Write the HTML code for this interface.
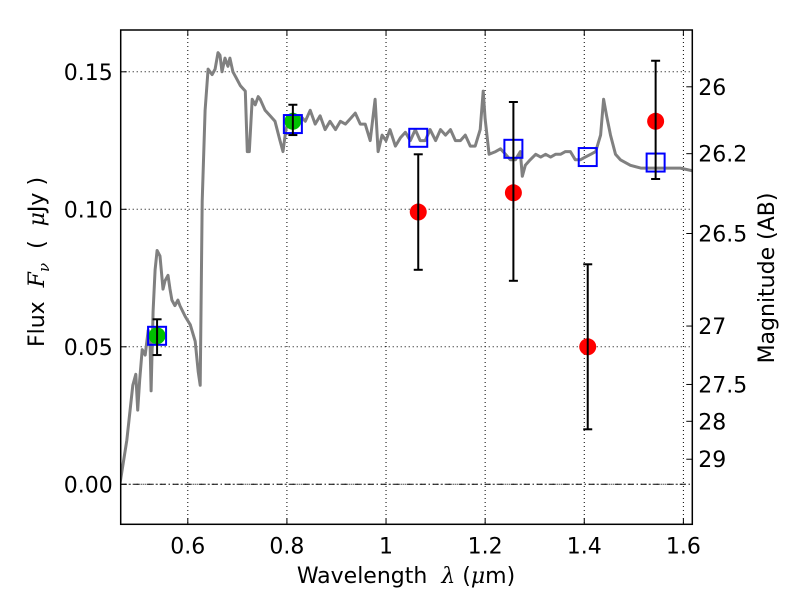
<!DOCTYPE html>
<html><head><meta charset="utf-8"><style>
html,body{margin:0;padding:0;background:#fff;}
svg text{font-family:"DejaVu Sans","Liberation Sans",sans-serif;fill:#000;}
</style></head><body>
<svg id="chart" width="800" height="600" viewBox="0 0 800 600" xmlns="http://www.w3.org/2000/svg">
<rect width="800" height="600" fill="#fff"/>
</svg>
<script>
const specWl=[0.463,0.477,0.489,0.495,0.499,0.503,0.508,0.514,0.520,0.524,0.526,0.530,0.534,0.538,0.544,0.550,0.554,0.560,0.564,0.568,0.574,0.580,0.584,0.595,0.605,0.615,0.621,0.625,0.629,0.635,0.641,0.649,0.655,0.661,0.665,0.669,0.675,0.681,0.685,0.691,0.697,0.706,0.716,0.720,0.724,0.730,0.736,0.742,0.746,0.756,0.766,0.776,0.786,0.792,0.798,0.806,0.817,0.827,0.837,0.847,0.857,0.867,0.877,0.887,0.898,0.908,0.918,0.928,0.938,0.948,0.958,0.968,0.978,0.984,0.992,1.000,1.008,1.019,1.029,1.039,1.049,1.059,1.069,1.079,1.089,1.100,1.110,1.120,1.130,1.140,1.150,1.160,1.170,1.180,1.190,1.196,1.200,1.208,1.221,1.231,1.241,1.251,1.261,1.271,1.275,1.281,1.291,1.302,1.312,1.322,1.332,1.342,1.352,1.362,1.372,1.382,1.392,1.402,1.413,1.423,1.433,1.439,1.445,1.453,1.463,1.473,1.493,1.514,1.554,1.594,1.618];
const specFlux=[0.000,0.016,0.036,0.040,0.027,0.038,0.049,0.047,0.056,0.051,0.034,0.063,0.078,0.085,0.083,0.071,0.074,0.076,0.071,0.067,0.065,0.067,0.065,0.061,0.058,0.052,0.041,0.036,0.103,0.136,0.151,0.149,0.151,0.157,0.156,0.150,0.155,0.152,0.155,0.150,0.148,0.145,0.143,0.121,0.121,0.140,0.138,0.141,0.140,0.136,0.134,0.132,0.125,0.121,0.129,0.134,0.132,0.134,0.132,0.136,0.131,0.134,0.129,0.132,0.129,0.132,0.131,0.133,0.135,0.131,0.131,0.125,0.140,0.121,0.127,0.125,0.129,0.123,0.126,0.128,0.125,0.129,0.125,0.125,0.129,0.125,0.129,0.127,0.129,0.125,0.125,0.127,0.123,0.123,0.129,0.143,0.133,0.120,0.121,0.122,0.120,0.118,0.118,0.121,0.112,0.116,0.118,0.120,0.119,0.120,0.119,0.120,0.120,0.121,0.121,0.118,0.118,0.119,0.120,0.121,0.127,0.140,0.134,0.127,0.120,0.118,0.116,0.115,0.115,0.115,0.114];
const obsWl=[1.065,1.257,1.407,1.544];
const obsFlux=[0.099,0.106,0.050,0.132];
const obsLo=[0.078,0.074,0.020,0.111];
const obsHi=[0.120,0.139,0.080,0.154];
const grnWl=[0.538,0.812];
const grnFlux=[0.054,0.132];
const grnLo=[0.047,0.127];
const grnHi=[0.060,0.138];
const modWl=[0.538,0.812,1.065,1.257,1.407,1.544];
const modFlux=[0.054,0.131,0.126,0.122,0.119,0.117];
const xTicks=[0.6,0.8,1.0,1.2,1.4,1.6];
const xTickLabels=["0.6","0.8","1","1.2","1.4","1.6"];
const yTicks=[0.00,0.05,0.10,0.15];
const yTickLabels=["0.00","0.05","0.10","0.15"];
const magTicks=[26,26.2,26.5,27,27.5,28,29];
const magTickLabels=["26","26.2","26.5","27","27.5","28","29"];

const L=120.7,R=692.3,T=30,B=524.3;
const X0=0.4646,X1=1.618;
const sx=v=>L+(v-X0)/(X1-X0)*(R-L);
const sy=v=>484.3-v*2750;
const magToFlux=m=>Math.pow(10,(23.9-m)/2.5);
const NS="http://www.w3.org/2000/svg";
const svg=document.getElementById('chart');
function mk(tag,attrs,parent){const e=document.createElementNS(NS,tag);for(const k in attrs)e.setAttribute(k,attrs[k]);(parent||svg).appendChild(e);return e;}

const clip=mk('clipPath',{id:'pc'});mk('rect',{x:L,y:T,width:R-L,height:B-T},clip);

xTicks.forEach((t,i)=>{
  const g=mk('line',{x1:sx(t),x2:sx(t),y1:T,y2:B,stroke:'#000','stroke-width':1,'stroke-dasharray':'1,3'});
  
  
  mk('line',{x1:sx(t),x2:sx(t),y1:B,y2:B-6,stroke:'#000'});
  mk('line',{x1:sx(t),x2:sx(t),y1:T,y2:T+6,stroke:'#000'});
  const tx=mk('text',{x:sx(t),y:B+29,'font-size':22,'text-anchor':'middle'});tx.textContent=xTickLabels[i];
  
  
});
yTicks.forEach((t,i)=>{
  const g=mk('line',{x1:L,x2:R,y1:sy(t),y2:sy(t),stroke:'#000','stroke-width':1,'stroke-dasharray':'1,3'});
  
  
  mk('line',{x1:L,x2:L+6,y1:sy(t),y2:sy(t),stroke:'#000'});
  const tx=mk('text',{x:L-8,y:sy(t)+8,'font-size':22,'text-anchor':'end'});tx.textContent=yTickLabels[i];
  
  
});
const zl=mk('line',{x1:L,x2:R,y1:sy(0),y2:sy(0),stroke:'#000','stroke-width':1,'stroke-dasharray':'6,3,1,3'});


magTicks.forEach((m,i)=>{
  const y=sy(magToFlux(m));
  mk('line',{x1:R,x2:R-6,y1:y,y2:y,stroke:'#000'});
  const tx=mk('text',{x:R+6,y:y+8,'font-size':22});tx.textContent=magTickLabels[i];
  
  
});

const pg=mk('g',{'clip-path':'url(#pc)'});
const pts=specWl.map((w,i)=>sx(w).toFixed(1)+','+sy(specFlux[i]).toFixed(1)).join(' ');
const sp=mk('polyline',{points:pts,fill:'none',stroke:'#808080','stroke-width':3,'stroke-linejoin':'round'},pg);



function errbar(w,lo,hi){
  const x=sx(w);
  mk('line',{x1:x,x2:x,y1:sy(lo),y2:sy(hi),stroke:'#000','stroke-width':2},pg);
  mk('line',{x1:x-4.5,x2:x+4.5,y1:sy(lo),y2:sy(lo),stroke:'#000','stroke-width':2},pg);
  mk('line',{x1:x-4.5,x2:x+4.5,y1:sy(hi),y2:sy(hi),stroke:'#000','stroke-width':2},pg);
}
grnWl.forEach((w,i)=>{
  const c=mk('circle',{cx:sx(w),cy:sy(grnFlux[i]),r:8.5,fill:'#00c000'},pg);
  
  
});
obsWl.forEach((w,i)=>{
  const c=mk('circle',{cx:sx(w),cy:sy(obsFlux[i]),r:8.5,fill:'#ff0000'},pg);
  
  
});
modWl.forEach((w,i)=>{
  const r=mk('rect',{x:sx(w)-9,y:sy(modFlux[i])-9,width:18,height:18,fill:'none',stroke:'#0000ff','stroke-width':2},pg);
  
  
});
obsWl.forEach((w,i)=>errbar(w,obsLo[i],obsHi[i]));
grnWl.forEach((w,i)=>errbar(w,grnLo[i],grnHi[i]));

const fr=mk('rect',{x:L,y:T,width:R-L,height:B-T,fill:'none',stroke:'#000','stroke-width':1.5});



const xl=mk('text',{x:406,y:583,'font-size':22,'text-anchor':'middle'});
xl.innerHTML='Wavelength\u00a0\u00a0<tspan font-family="DejaVu Serif" font-style="italic">λ</tspan>\u00a0(<tspan font-family="DejaVu Serif" font-style="italic">μ</tspan>m)';


const yl=mk('text',{x:0,y:0,'font-size':22,'text-anchor':'middle',transform:'translate(44,262) rotate(-90)'});
yl.innerHTML='Flux\u00a0\u00a0<tspan font-family="DejaVu Serif" font-style="italic">F<tspan font-size="15" dy="5">ν</tspan></tspan><tspan dy="-5">\u00a0\u00a0(\u00a0\u00a0</tspan><tspan font-family="DejaVu Serif" font-style="italic">μ</tspan>Jy\u00a0)';


const rl=mk('text',{x:0,y:0,'font-size':22,'text-anchor':'middle',transform:'translate(774,278) rotate(-90)'});
rl.textContent='Magnitude (AB)';


</script>
</body></html>
